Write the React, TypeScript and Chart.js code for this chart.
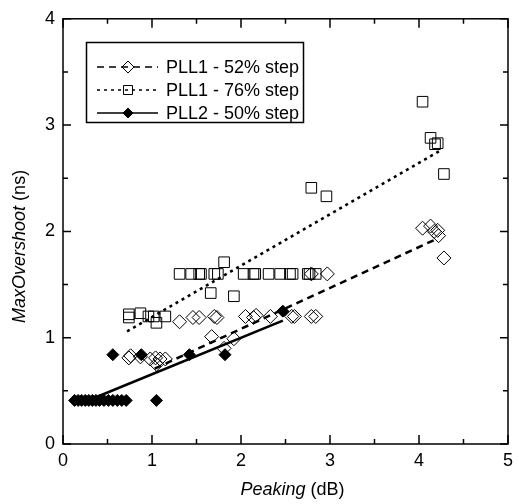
import React, { useEffect, useRef } from "react";
import { Chart, registerables } from "chart.js";
Chart.register(...registerables);

// PLL1 - 52% step (open diamonds)
const P52_X = [0.74, 0.76, 0.87, 0.98, 1.04, 1.05, 1.09, 1.15, 1.31, 1.46, 1.53, 1.70, 1.73, 1.67, 1.92, 1.81, 2.05, 2.14, 2.17, 2.33, 2.57, 2.60, 2.79, 2.84, 2.79, 2.97, 4.04, 4.13, 4.17, 4.21, 4.22, 4.28];
const P52_Y = [0.81, 0.83, 0.82, 0.80, 0.81, 0.75, 0.80, 0.80, 1.15, 1.19, 1.19, 1.20, 1.19, 1.01, 0.99, 0.90, 1.20, 1.19, 1.21, 1.20, 1.20, 1.20, 1.20, 1.20, 1.60, 1.60, 2.03, 2.05, 2.00, 2.01, 1.96, 1.75];

// PLL1 - 76% step (open squares)
const P76_X = [0.74, 0.74, 0.87, 0.96, 1.02, 1.05, 1.15, 1.31, 1.44, 1.53, 1.55, 1.70, 1.74, 1.81, 1.66, 1.92, 2.03, 2.14, 2.16, 2.31, 2.44, 2.55, 2.58, 2.75, 2.77, 2.84, 2.79, 2.96, 4.04, 4.13, 4.18, 4.21, 4.28];
const P76_Y = [1.22, 1.19, 1.23, 1.20, 1.20, 1.14, 1.20, 1.60, 1.60, 1.60, 1.60, 1.60, 1.60, 1.71, 1.42, 1.39, 1.60, 1.60, 1.60, 1.60, 1.60, 1.60, 1.60, 1.60, 1.60, 1.60, 2.41, 2.33, 3.22, 2.88, 2.82, 2.83, 2.54];

// PLL2 - 50% step (filled diamonds)
const P50_X = [0.13, 0.17, 0.21, 0.25, 0.29, 0.33, 0.37, 0.41, 0.46, 0.51, 0.56, 0.61, 0.66, 0.71, 1.05, 0.56, 0.88, 1.42, 1.82, 2.47];
const P50_Y = [0.41, 0.41, 0.41, 0.41, 0.41, 0.41, 0.41, 0.41, 0.41, 0.41, 0.41, 0.41, 0.41, 0.41, 0.41, 0.84, 0.84, 0.84, 0.84, 1.25];

// Linear fit lines (endpoints)
const FIT52_X = [1.03, 4.2];
const FIT52_Y = [0.71, 1.93];
const FIT76_X = [0.72, 4.26];
const FIT76_Y = [1.06, 2.77];
const FIT50_X = [0.37, 2.47];
const FIT50_Y = [0.44, 1.16];

const X_MIN = 0, X_MAX = 5, Y_MIN = 0, Y_MAX = 4;
const LEGEND_LABELS = ["PLL1 - 52% step", "PLL1 - 76% step", "PLL2 - 50% step"];
const X_TITLE = ["Peaking", " (dB)"];
const Y_TITLE = ["MaxOvershoot", " (ns)"];

const FONT = "'Liberation Sans', Arial, sans-serif";

const pts = (xs: number[], ys: number[]) => xs.map((x, i) => ({ x, y: ys[i] }));

const DASH52 = [7, 5];
const DASH76 = [3, 4];

function drawMarker(ctx: CanvasRenderingContext2D, kind: string, x: number, y: number, r: number) {
  ctx.save();
  ctx.beginPath();
  if (kind === "square") {
    const s = r;
    ctx.rect(x - s, y - s, 2 * s, 2 * s);
  } else {
    ctx.moveTo(x, y - r);
    ctx.lineTo(x + r, y);
    ctx.lineTo(x, y + r);
    ctx.lineTo(x - r, y);
    ctx.closePath();
  }
  ctx.setLineDash([]);
  ctx.lineWidth = 1;
  if (kind === "filled") {
    ctx.fillStyle = "#000";
    ctx.fill();
  }
  ctx.strokeStyle = "#000";
  ctx.stroke();
  ctx.restore();
}

const framePlugin = {
  id: "frame",
  afterDraw(chart: any) {
    const { ctx, chartArea } = chart;
    const { left, right, top, bottom } = chartArea;
    const xs = chart.scales.x;
    const ys = chart.scales.y;
    ctx.save();
    ctx.strokeStyle = "#000";
    ctx.lineWidth = 1.5;
    ctx.setLineDash([]);
    ctx.strokeRect(left, top, right - left, bottom - top);
    ctx.beginPath();
    for (let v = X_MIN; v <= X_MAX + 1e-9; v += 0.5) {
      const px = xs.getPixelForValue(v);
      const len = Math.abs(v - Math.round(v)) < 1e-6 ? 9 : 5;
      ctx.moveTo(px, bottom); ctx.lineTo(px, bottom - len);
      ctx.moveTo(px, top); ctx.lineTo(px, top + len);
    }
    for (let v = Y_MIN; v <= Y_MAX + 1e-9; v += 0.5) {
      const py = ys.getPixelForValue(v);
      const len = Math.abs(v - Math.round(v)) < 1e-6 ? 8 : 5;
      ctx.moveTo(left, py); ctx.lineTo(left + len, py);
      ctx.moveTo(right, py); ctx.lineTo(right - len, py);
    }
    ctx.stroke();

    // axis titles
    ctx.fillStyle = "#000";
    ctx.textBaseline = "middle";
    const fi = `italic 18px ${FONT}`;
    const fn = `18px ${FONT}`;
    ctx.font = fi; const w1 = ctx.measureText(X_TITLE[0]).width;
    ctx.font = fn; const w2 = ctx.measureText(X_TITLE[1]).width;
    const cx = (left + right) / 2 + 7;
    let sx = cx - (w1 + w2) / 2;
    ctx.textAlign = "left";
    ctx.font = fi; ctx.fillText(X_TITLE[0], sx, 490);
    ctx.font = fn; ctx.fillText(X_TITLE[1], sx + w1, 490);

    ctx.save();
    ctx.translate(20, (top + bottom) / 2 + 15);
    ctx.rotate(-Math.PI / 2);
    ctx.font = fi; const v1 = ctx.measureText(Y_TITLE[0]).width;
    ctx.font = fn; const v2 = ctx.measureText(Y_TITLE[1]).width;
    const sy = -(v1 + v2) / 2;
    ctx.font = fi; ctx.fillText(Y_TITLE[0], sy, 0);
    ctx.font = fn; ctx.fillText(Y_TITLE[1], sy + v1, 0);
    ctx.restore();

    // legend
    ctx.lineWidth = 1.5;
    ctx.strokeRect(86.5, 42.5, 217, 80);
    const rows = [
      { dash: DASH52, kind: "open", r: 6 },
      { dash: DASH76, kind: "square", r: 4.5 },
      { dash: [] as number[], kind: "filled", r: 5 },
    ];
    rows.forEach((row, i) => {
      const y = 67 + 23 * i;
      ctx.beginPath();
      ctx.setLineDash(row.dash);
      ctx.lineWidth = 1.5;
      ctx.moveTo(97, y); ctx.lineTo(158, y);
      ctx.stroke();
      ctx.setLineDash([]);
      drawMarker(ctx, row.kind, 128, y, row.r);
      ctx.font = fn;
      ctx.textAlign = "left";
      ctx.fillStyle = "#000";
      ctx.fillText(LEGEND_LABELS[i], 166, y + 1);
    });
    ctx.restore();
  },
};

export default function App() {
  const ref = useRef<HTMLCanvasElement>(null);
  useEffect(() => {
    document.body.style.margin = "0";
    const canvas = ref.current!;
    const chart = new Chart(canvas, {
      type: "scatter",
      data: {
        datasets: [
          {
            label: "fit52",
            data: pts(FIT52_X, FIT52_Y),
            showLine: true,
            borderColor: "#000",
            borderWidth: 2.5,
            borderDash: DASH52,
            pointRadius: 0,
          },
          {
            label: "fit76",
            data: pts(FIT76_X, FIT76_Y),
            showLine: true,
            borderColor: "#000",
            borderWidth: 2.5,
            borderDash: DASH76,
            pointRadius: 0,
          },
          {
            label: "fit50",
            data: pts(FIT50_X, FIT50_Y),
            showLine: true,
            borderColor: "#000",
            borderWidth: 2.5,
            pointRadius: 0,
          },
          {
            label: LEGEND_LABELS[0],
            data: pts(P52_X, P52_Y),
            pointStyle: "rectRot",
            pointRadius: 7,
            borderColor: "#000",
            backgroundColor: "rgba(255,255,255,0)",
            borderWidth: 1,
          },
          {
            label: LEGEND_LABELS[1],
            data: pts(P76_X, P76_Y),
            pointStyle: "rect",
            pointRadius: 7.5,
            borderColor: "#000",
            backgroundColor: "rgba(255,255,255,0)",
            borderWidth: 1,
          },
          {
            label: LEGEND_LABELS[2],
            data: pts(P50_X, P50_Y),
            pointStyle: "rectRot",
            pointRadius: 6,
            borderColor: "#000",
            backgroundColor: "#000",
            borderWidth: 1,
          },
        ],
      },
      options: {
        responsive: false,
        animation: false,
        layout: { padding: { left: 0, right: 4, top: 15, bottom: 0 } },
        plugins: { legend: { display: false }, tooltip: { enabled: false } },
        scales: {
          x: {
            type: "linear",
            min: X_MIN,
            max: X_MAX,
            ticks: { stepSize: 1, color: "#000", font: { family: FONT, size: 18 }, padding: 6, maxRotation: 0 },
            grid: { display: false, drawTicks: false },
            border: { display: false },
            afterFit: (s: any) => { s.height = 60; },
          },
          y: {
            type: "linear",
            min: Y_MIN,
            max: Y_MAX,
            ticks: { stepSize: 1, color: "#000", font: { family: FONT, size: 18 }, padding: 8 },
            grid: { display: false, drawTicks: false },
            border: { display: false },
            afterFit: (s: any) => { s.width = 63; },
          },
        },
      },
      plugins: [framePlugin],
    });
    return () => chart.destroy();
  }, []);
  return (
    <div style={{ width: 519, height: 504 }}>
      <canvas ref={ref} width={519} height={504} />
    </div>
  );
}
